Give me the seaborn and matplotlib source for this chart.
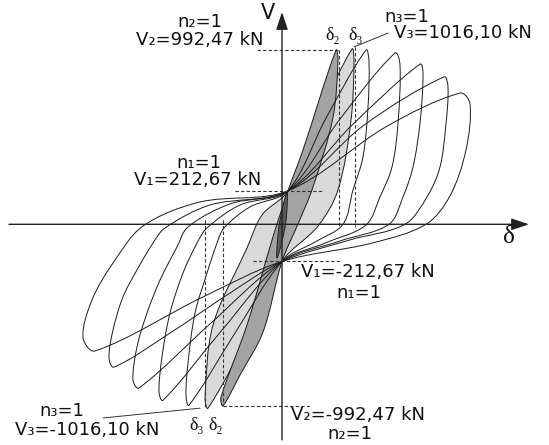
import numpy as np
import pandas as pd
import matplotlib
matplotlib.use("Agg")
import matplotlib.pyplot as plt
import seaborn as sns
from matplotlib.path import Path
from matplotlib.patches import PathPatch

# Schematic pinched hysteresis loops, V [kN] against delta [mm].
# Each loop runs: top tip, right side down, axis crossing, flat part to the
# lower pinch, diagonal to the bottom tip, left side up, flat part to the
# upper pinch, diagonal back to the top tip.
loop_a_d = [21, 21.75, 21.5, 20.25, 17.75, 15.25, 8.25, 0, -11.75, -23.25, -24, -23.5, -21.75, -18.75, -16.25, -14.5, -8, 1.5, 11]
loop_a_v = [993, 925, 668, 384, 196, 0, -101, -212, -620, -1031, -973, -791, -506, -278, -107, -21, 99, 191, 605]
loop_b_d = [28.25, 29.5, 29, 27.5, 24.5, 21, 10.75, 0, -15, -29.75, -30.75, -30, -28, -24.75, -21.25, -18.75, -10.5, 1.5, 14.5]
loop_b_v = [976, 908, 577, 327, 156, -4, -107, -212, -603, -1003, -956, -756, -506, -278, -107, -21, 110, 191, 600]
loop_c_d = [34.5, 35.25, 34.5, 32.75, 30.25, 26.75, 14.5, 0, -18, -35.75, -37.25, -36.25, -33.75, -30.5, -26.25, -23.5, -13, 1.5, 17.5]
loop_c_v = [913, 857, 577, 327, 156, 0, -95, -212, -568, -933, -887, -699, -506, -318, -129, -15, 116, 191, 565]
loop_d_d = [40.5, 41.5, 41, 39.5, 36.25, 30.75, 17, 0, -13, -28, -42, -43.25, -42.25, -39.75, -36.25, -32.25, -29.25, -18, 1.5, 20.5]
loop_d_v = [840, 777, 574, 327, 156, 0, -89, -212, -392, -620, -814, -762, -603, -414, -260, -107, -21, 110, 191, 565]
loop_e_d = [44.5, 47, 46, 42, 36, 22.5, 0, -19.75, -46.75, -49.75, -47.5, -42.25, -34.75, -20.5, 1.5, 26.25]
loop_e_v = [748, 686, 424, 162, 0, -107, -212, -414, -722, -643, -431, -221, -10, 127, 191, 559]

# shaded cycles (n3 light, n2 dark, n1 small)
loop_n3_d = [17.5, 18, 17.25, 14, 9, 0, -8, -18.5, -19.25, -17.25, -8.75, -5, 1.5, 9]
loop_n3_v = [999, 925, 594, 196, -10, -212, -614, -1048, -990, -574, -135, 53, 191, 605]
loop_n2_d = [13.5, 14, 12.75, 7.75, 4, 0, -4.75, -10.5, -14.75, -15.25, -8.75, -2.5, 1.5, 5.25]
loop_n2_v = [993, 936, 611, 213, 2, -212, -614, -859, -1034, -985, -574, -90, 191, 424]
loop_n1_d = [1.25, 0.9, -1.25, -0.75]
loop_n1_v = [184, 2, -192, -10]

# dashed guides: start and end of each segment
guide_d0 = [-6.25, 14.25, 18.25, -11.75, -7.25, -14.75, -19.25, -14.75]
guide_v0 = [992.47, 992.47, 1011, 191, -212, -1034, 24, 24]
guide_d1 = [14.25, 14.25, 18.25, 10.25, 15, 7, -19.25, -14.75]
guide_v1 = [992.47, -15, -15, 191, -212, -1034, -1048, -1034]

sns.set_theme(style="white")
plt.rcParams["font.family"] = ["DejaVu Sans"]

fig = plt.figure(figsize=(5.49, 4.45), dpi=100)
ax = fig.add_axes([0, 0, 1, 1])
ax.set_xlim(-70.5, 66.75)
ax.set_ylim(-1258, 1278.5)
ax.axis("off")


def smooth_loop(d, v):
    # closed smooth path through the anchors (cubic Bezier, built in display space)
    pts = ax.transData.transform(np.column_stack([d, v]))
    prev = np.roll(pts, 1, axis=0)
    nxt = np.roll(pts, -1, axis=0)
    seg = np.linalg.norm(nxt - pts, axis=1)
    seg_prev = np.roll(seg, 1)
    tang = (nxt - prev) / (seg_prev + seg)[:, None]
    n = len(pts)
    verts = [pts[0]]
    codes = [Path.MOVETO]
    for i in range(n):
        j = (i + 1) % n
        verts += [pts[i] + tang[i] * seg[i] / 3, pts[j] - tang[j] * seg[i] / 3, pts[j]]
        codes += [Path.CURVE4] * 3
    verts = ax.transData.inverted().transform(np.array(verts))
    return Path(verts, codes)


edge = "#1a1a1a"
ax.add_patch(PathPatch(smooth_loop(loop_n3_d, loop_n3_v), facecolor="#d9d9d9", edgecolor=edge, lw=0.7, zorder=2))
ax.add_patch(PathPatch(smooth_loop(loop_n2_d, loop_n2_v), facecolor="#a3a3a3", edgecolor=edge, lw=0.7, zorder=3))
ax.add_patch(PathPatch(smooth_loop(loop_n1_d, loop_n1_v), facecolor="#5a5a5a", edgecolor=edge, lw=0.6, zorder=4))
for d, v in [(loop_a_d, loop_a_v), (loop_b_d, loop_b_v), (loop_c_d, loop_c_v),
             (loop_d_d, loop_d_v), (loop_e_d, loop_e_v)]:
    ax.add_patch(PathPatch(smooth_loop(d, v), facecolor="none", edgecolor=edge, lw=0.7, zorder=5))

# dashed guide lines
guides = pd.DataFrame({
    "seg": list(range(len(guide_d0))) * 2,
    "d": guide_d0 + guide_d1,
    "v": guide_v0 + guide_v1,
})
sns.lineplot(data=guides, x="d", y="v", units="seg", estimator=None, sort=False,
             color="#333333", lw=0.8, linestyle=(0, (3, 2)), ax=ax, zorder=6)
ax.axis("off")

# axes with arrows
arrow = dict(arrowstyle="-|>,head_length=0.9,head_width=0.3", mutation_scale=12,
             color="#222222", lw=1.0, shrinkA=0, shrinkB=0)
ax.annotate("", xy=(61.75, 0), xytext=(-68.25, 0), arrowprops=arrow, zorder=7)
ax.annotate("", xy=(0, 1210), xytext=(0, -1229), arrowprops=arrow, zorder=7)

# leader lines
ax.plot([18, 26.5], [1011, 1090], color="#333333", lw=0.7, zorder=6)
ax.plot([-44.75, -20.5], [-1104, -1048], color="#333333", lw=0.7, zorder=6)

fs = 13
txt = dict(ha="center", va="center", fontsize=fs, color="#111111", zorder=8)
serif = ["Liberation Serif", "DejaVu Serif"]
ax.text(-3.5, 1204, "V", **{**txt, "fontsize": 15})
ax.text(56.75, -72, "δ", family=serif, **{**txt, "fontsize": 18})
ax.text(-20.5, 1153, "n₂=1", **txt)
ax.text(-20.5, 1050, "V₂=992,47 kN", **txt)
ax.text(-20.75, 349, "n₁=1", **txt)
ax.text(-21, 253, "V₁=212,67 kN", **txt)
ax.text(31.25, 1182, "n₃=1", **txt)
ax.text(45.25, 1090, "V₃=1016,10 kN", **txt)
ax.text(12.75, 1079, "δ₂", family=serif, **txt)
ax.text(18.5, 1079, "δ₃", family=serif, **txt)
ax.text(21.5, -272, "V₁=-212,67 kN", **txt)
ax.text(19.25, -392, "n₁=1", **txt)
ax.text(19, -1087, "V₂=-992,47 kN", **txt)
ax.text(17, -1195, "n₂=1", **txt)
ax.text(-55, -1064, "n₃=1", **txt)
ax.text(-48.75, -1170, "V₃=-1016,10 kN", **txt)
ax.text(-21.25, -1144, "δ₃", family=serif, **txt)
ax.text(-16.5, -1144, "δ₂", family=serif, **txt)

fig.savefig("out.png", dpi=100)
